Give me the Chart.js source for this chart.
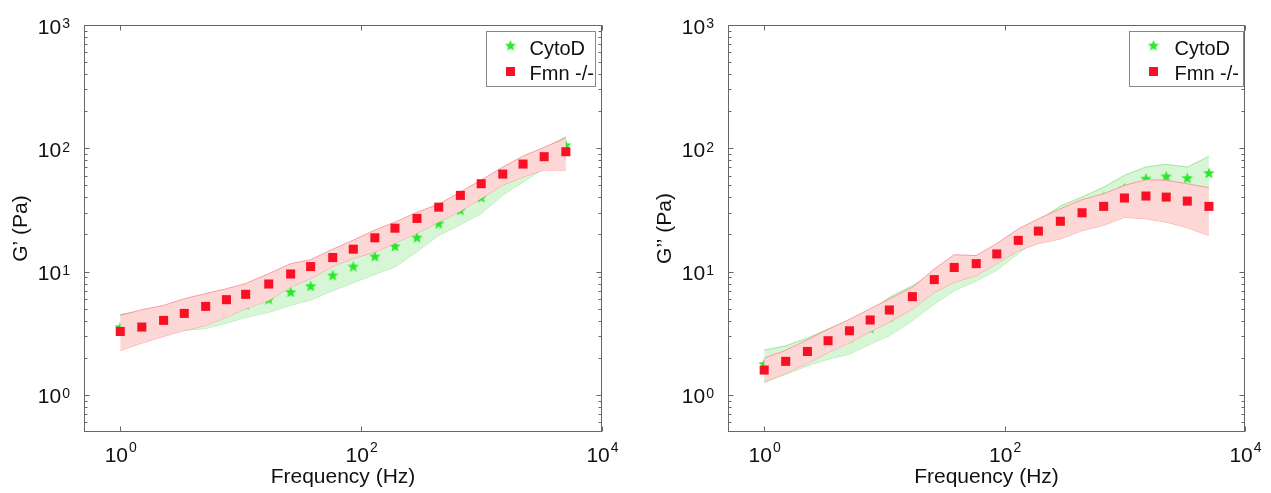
<!DOCTYPE html>
<html>
<head>
<meta charset="utf-8">
<script src="https://cdn.jsdelivr.net/npm/chart.js@4.4.1/dist/chart.umd.min.js"></script>
<style>
  html, body { margin: 0; padding: 0; background: #fff; }
  #wrap { position: relative; width: 1271px; height: 493px; }
  #c1 { position: absolute; left: 0; top: 0; }
  #c2 { position: absolute; left: 636px; top: 0; }
</style>
</head>
<body>
<div id="wrap">
  <canvas id="c1" width="636" height="493"></canvas>
  <canvas id="c2" width="635" height="493"></canvas>
</div>
<script>
// frequencies (Hz)
const freqHz = [1, 1.51, 2.29, 3.40, 5.12, 7.62, 11.0, 17.1, 26.0, 38.1, 58.1, 86.1, 130, 191, 291, 441, 667, 993, 1500, 2210, 3310, 5010];

// G' (Pa)
const gp_fmn    = [3.27, 3.55, 4.02, 4.58, 5.22, 5.92, 6.54, 7.93, 9.56, 10.98, 13.0, 15.2, 18.8, 22.5, 27.0, 33.3, 41.5, 51.6, 61.8, 74.5, 85.5, 93.8];
const gp_fmnHi  = [4.41, 4.91, 5.32, 6.03, 6.63, 7.27, 7.99, 9.63, 11.6, 12.5, 15.2, 18.0, 21.7, 25.2, 30.3, 35.3, 44.2, 55.3, 70.4, 86.5, 102, 121];
const gp_fmnLo  = [2.29, 2.63, 2.98, 3.33, 3.66, 4.27, 5.00, 5.84, 7.50, 8.77, 11.0, 12.8, 14.4, 17.0, 20.5, 25.2, 30.9, 39.2, 50.3, 58.5, 66.6, 66.6];
const gp_cyto   = [3.55, 3.75, 4.0, 4.4, 4.6, 4.9, 5.4, 5.96, 6.83, 7.64, 9.33, 11.0, 13.3, 16.1, 18.9, 24.6, 31.5, 40.0, 57, 72, 88, 106];
const gp_cytoHi = [4.50, 4.75, 4.93, 5.4, 5.9, 6.4, 7.0, 7.7, 8.7, 9.8, 11.8, 13.7, 16.5, 19.5, 23, 30, 38, 48, 63, 80, 100, 124];
const gp_cytoLo = [3.0, 3.15, 3.33, 3.33, 3.46, 3.83, 4.25, 4.69, 5.32, 5.9, 7.01, 8.14, 9.51, 10.9, 14.5, 19.7, 24.0, 29.6, 41.7, 53.2, 69, 80];

// G'' (Pa)
const gpp_fmn    = [1.59, 1.87, 2.25, 2.75, 3.31, 4.05, 4.88, 6.26, 8.61, 10.8, 11.6, 13.9, 17.9, 21.3, 25.6, 30.0, 33.8, 39.5, 41.0, 40.2, 37.3, 33.8];
const gpp_fmnHi  = [1.99, 2.3, 2.8, 3.4, 4.1, 5.0, 6.0, 7.45, 10.5, 13.7, 13.5, 16.9, 22.2, 26.8, 32.3, 38.3, 42.8, 50.0, 55.7, 55.0, 51.6, 47.9];
const gpp_fmnLo  = [1.28, 1.5, 1.8, 2.2, 2.65, 3.25, 3.9, 4.97, 6.79, 8.19, 9.3, 11.6, 14.8, 16.9, 18.4, 21.5, 23.7, 27.6, 26.8, 25.2, 22.7, 19.6];
const gpp_cyto   = [1.78, 1.93, 2.24, 2.58, 2.92, 3.47, 4.31, 5.92, 7.7, 9.4, 11.2, 14.0, 17.5, 21.5, 26.5, 33, 40.0, 47.3, 56.7, 59.2, 57.4, 63.0];
const gpp_cytoHi = [2.31, 2.50, 2.89, 3.42, 4.0, 4.76, 6.18, 7.69, 9.8, 12.5, 13.0, 16, 21, 26, 34, 40.2, 48.4, 60.3, 70.5, 74.1, 70.5, 86.1];
const gpp_cytoLo = [1.26, 1.47, 1.72, 1.95, 2.14, 2.58, 3.02, 4.0, 5.46, 7.01, 8.4, 10.3, 14.0, 18.5, 22.4, 26, 30, 38, 45, 47, 45, 45];

// axis ticks
const xTickVals = [1, 100, 10000];
const xTickExp = ['0', '2', '4'];
const yTickVals = [1, 10, 100, 1000];
const yTickExp = ['0', '1', '2', '3'];
const yMinorVals = [0.6, 0.7, 0.8, 0.9, 2, 3, 4, 5, 6, 7, 8, 9, 20, 30, 40, 50, 60, 70, 80, 90, 200, 300, 400, 500, 600, 700, 800, 900];

const legendLabels = ['CytoD', 'Fmn -/-'];

const RED = 'rgb(250,16,36)';
const GREEN = 'rgb(40,232,40)';
const FONT = "'Liberation Sans', Arial, Helvetica, sans-serif";
const AXIS = '#666';

function makeStar(size, color) {
  const c = document.createElement('canvas');
  c.width = c.height = size;
  const g = c.getContext('2d');
  const cx = size / 2, cy = size / 2 + 0.4, R = size / 2, r = R * 0.42;
  g.beginPath();
  for (let i = 0; i < 10; i++) {
    const a = -Math.PI / 2 + i * Math.PI / 5;
    const rr = i % 2 ? r : R;
    g.lineTo(cx + rr * Math.cos(a), cy + rr * Math.sin(a));
  }
  g.closePath();
  g.fillStyle = color;
  g.fill();
  return c;
}
const starImg = makeStar(12, GREEN);

function pts(ys) { return freqHz.map((f, i) => ({ x: f, y: ys[i] })); }

// frame, ticks, labels, titles and legend
const decorPlugin = {
  id: 'decor',
  afterDraw(chart) {
    const o = chart.options.plugins.decor;
    const ctx = chart.ctx;
    const a = chart.chartArea;
    const xs = chart.scales.x, ys = chart.scales.y;
    const L = Math.round(a.left) + 0.5, R = Math.round(a.right) - 0.5;
    const T = Math.round(a.top) + 0.5, B = Math.round(a.bottom) - 0.5;
    ctx.save();
    ctx.strokeStyle = AXIS;
    ctx.lineWidth = 1;
    ctx.strokeRect(L, T, R - L, B - T);

    ctx.beginPath();
    yTickVals.forEach(v => {
      const y = Math.round(ys.getPixelForValue(v)) + 0.5;
      ctx.moveTo(L, y); ctx.lineTo(L + 5, y);
      ctx.moveTo(R, y); ctx.lineTo(R - 5, y);
    });
    yMinorVals.forEach(v => {
      const y = Math.round(ys.getPixelForValue(v)) + 0.5;
      ctx.moveTo(L, y); ctx.lineTo(L + 3, y);
      ctx.moveTo(R, y); ctx.lineTo(R - 3, y);
    });
    xTickVals.forEach(v => {
      const x = Math.round(xs.getPixelForValue(v)) + 0.5;
      ctx.moveTo(x, B); ctx.lineTo(x, B - 5);
      ctx.moveTo(x, T); ctx.lineTo(x, T + 5);
    });
    ctx.stroke();

    // tick labels 10^n
    ctx.fillStyle = '#111';
    ctx.textBaseline = 'alphabetic';
    ctx.textAlign = 'left';
    const big = '21px ' + FONT, sup = '14px ' + FONT;
    xTickVals.forEach((v, i) => {
      const x = xs.getPixelForValue(v);
      ctx.font = big; const w1 = ctx.measureText('10').width;
      ctx.font = sup; const w2 = ctx.measureText(xTickExp[i]).width;
      const x0 = x - (w1 + w2) / 2;
      ctx.font = big; ctx.fillText('10', x0, a.bottom + 30);
      ctx.font = sup; ctx.fillText(xTickExp[i], x0 + w1 + 1, a.bottom + 20);
    });
    yTickVals.forEach((v, i) => {
      const y = ys.getPixelForValue(v);
      ctx.font = big; const w1 = ctx.measureText('10').width;
      ctx.font = sup; const w2 = ctx.measureText(yTickExp[i]).width;
      const x0 = a.left - 14 - w2 - 1 - w1;
      ctx.font = big; ctx.fillText('10', x0, y + 8.5);
      ctx.font = sup; ctx.fillText(yTickExp[i], x0 + w1 + 1, y + 3.3);
    });

    // axis titles
    ctx.font = '21px ' + FONT;
    ctx.textAlign = 'center';
    ctx.fillText(o.xTitle, (a.left + a.right) / 2, a.bottom + 51);
    ctx.save();
    ctx.translate(a.left - 63, (a.top + a.bottom) / 2);
    ctx.rotate(-Math.PI / 2);
    ctx.textBaseline = 'middle';
    ctx.fillText(o.yTitle, 0, 0);
    ctx.restore();

    // legend
    const bx = Math.round(a.right + o.legendDx) + 0.5, by = Math.round(a.top + 6) + 0.5;
    ctx.fillStyle = '#fff';
    ctx.fillRect(bx, by, o.legendW, 55);
    ctx.strokeStyle = '#888';
    ctx.strokeRect(bx, by, o.legendW, 55);
    ctx.drawImage(starImg, bx + 24 - 6, by + 14 - 6);
    ctx.fillStyle = RED;
    ctx.fillRect(bx + 24 - 4.5, by + 40 - 4.5, 9, 9);
    ctx.fillStyle = '#111';
    ctx.textAlign = 'left';
    ctx.textBaseline = 'alphabetic';
    ctx.font = '20px ' + FONT;
    ctx.fillText(legendLabels[0], bx + o.textDx, by + 23);
    ctx.fillText(legendLabels[1], bx + o.textDx, by + 48.5);
    ctx.restore();
  }
};

function makeChart(id, s) {
  const datasets = [
    { label: legendLabels[1], data: pts(s.fmn), showLine: false, pointStyle: 'rect',
      pointRadius: 6.4, pointHoverRadius: 6.4, backgroundColor: RED, borderColor: RED, borderWidth: 0, order: 0 },
    { data: pts(s.fmnHi), showLine: true, pointRadius: 0, borderColor: 'rgba(245,140,140,0.8)', borderWidth: 1,
      backgroundColor: 'rgb(253,214,214)', fill: '+1', tension: 0, order: 1 },
    { data: pts(s.fmnLo), showLine: true, pointRadius: 0, borderColor: 'rgba(245,140,140,0.8)', borderWidth: 1,
      fill: false, tension: 0, order: 2 },
    { label: legendLabels[0], data: pts(s.cyto), showLine: false, pointStyle: starImg,
      pointRadius: 5, backgroundColor: GREEN, borderColor: GREEN, order: 3 },
    { data: pts(s.cytoHi), showLine: true, pointRadius: 0, borderColor: 'rgba(140,225,140,0.8)', borderWidth: 1,
      backgroundColor: 'rgb(214,246,214)', fill: '+1', tension: 0, order: 4 },
    { data: pts(s.cytoLo), showLine: true, pointRadius: 0, borderColor: 'rgba(140,225,140,0.8)', borderWidth: 1,
      fill: false, tension: 0, order: 5 }
  ];
  return new Chart(document.getElementById(id), {
    type: 'scatter',
    data: { datasets },
    options: {
      responsive: false,
      animation: false,
      events: [],
      layout: { padding: { left: 0, right: s.padRight, top: 25, bottom: 0 } },
      scales: {
        x: {
          type: 'logarithmic', min: 0.5, max: 10000,
          ticks: { display: false }, grid: { display: false }, border: { display: false },
          afterFit(scale) { scale.height = 61; }
        },
        y: {
          type: 'logarithmic', min: 0.5, max: 1000,
          ticks: { display: false }, grid: { display: false }, border: { display: false },
          afterFit(scale) { scale.width = s.yWidth; }
        }
      },
      plugins: {
        legend: { display: false },
        tooltip: { enabled: false },
        decor: { xTitle: 'Frequency (Hz)', yTitle: s.yTitle, legendDx: s.legendDx, legendW: s.legendW, textDx: s.textDx }
      }
    },
    plugins: [decorPlugin]
  });
}

makeChart('c1', {
  fmn: gp_fmn, fmnHi: gp_fmnHi, fmnLo: gp_fmnLo,
  cyto: gp_cyto, cytoHi: gp_cytoHi, cytoLo: gp_cytoLo,
  yTitle: 'G\u2019 (Pa)', yWidth: 84, padRight: 34, legendDx: -116, legendW: 109, textDx: 43
});
makeChart('c2', {
  fmn: gpp_fmn, fmnHi: gpp_fmnHi, fmnLo: gpp_fmnLo,
  cyto: gpp_cyto, cytoHi: gpp_cytoHi, cytoLo: gpp_cytoLo,
  yTitle: 'G\u2019\u2019 (Pa)', yWidth: 92, padRight: 26, legendDx: -116, legendW: 114, textDx: 45
});
</script>
</body>
</html>
